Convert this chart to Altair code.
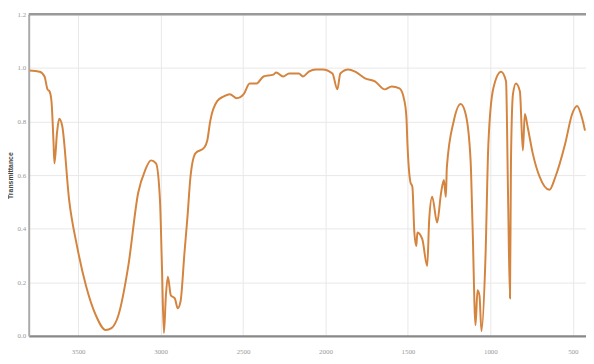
import altair as alt
import pandas as pd

wavenumber = [3794, 3734, 3704, 3686, 3674, 3662, 3650, 3644, 3628, 3615, 3597,
              3555, 3507, 3453, 3393, 3333, 3298, 3256, 3196, 3136, 3094, 3058,
              3028, 3004, 2992, 2980, 2968, 2956, 2938, 2914, 2896, 2879, 2855,
              2837, 2819, 2789, 2735, 2717, 2699, 2657, 2616, 2580, 2538, 2496,
              2460, 2418, 2376, 2316, 2299, 2257, 2221, 2161, 2137, 2101, 2059,
              2017, 1958, 1928, 1910, 1862, 1820, 1760, 1700, 1640, 1599, 1551,
              1521, 1509, 1503, 1485, 1473, 1461, 1449, 1443, 1413, 1383, 1371,
              1353, 1323, 1299, 1282, 1270, 1264, 1222, 1180, 1150, 1120, 1108,
              1090, 1078, 1066, 1054, 1030, 1012, 982, 935, 905, 893, 881, 875,
              863, 845, 821, 803, 791, 773, 743, 701, 642, 606, 546, 504, 474,
              444, 426]
transmittance = [0.990, 0.986, 0.968, 0.920, 0.913, 0.876, 0.729, 0.644, 0.760, 0.810, 0.784,
                 0.508, 0.335, 0.188, 0.077, 0.022, 0.029, 0.077, 0.261, 0.534, 0.618, 0.655,
                 0.644, 0.508, 0.261, 0.011, 0.150, 0.221, 0.151, 0.140, 0.103, 0.129, 0.313,
                 0.445, 0.593, 0.681, 0.703, 0.729, 0.802, 0.876, 0.894, 0.902, 0.887, 0.902,
                 0.942, 0.942, 0.968, 0.975, 0.983, 0.968, 0.979, 0.979, 0.968, 0.986, 0.994,
                 0.994, 0.979, 0.920, 0.979, 0.994, 0.986, 0.961, 0.950, 0.920, 0.931, 0.924,
                 0.876, 0.813, 0.718, 0.574, 0.556, 0.386, 0.335, 0.386, 0.361, 0.261, 0.434,
                 0.519, 0.423, 0.534, 0.582, 0.519, 0.629, 0.802, 0.865, 0.828, 0.655, 0.409,
                 0.040, 0.170, 0.150, 0.018, 0.287, 0.718, 0.924, 0.986, 0.950, 0.534, 0.140, 0.655,
                 0.902, 0.942, 0.913, 0.692, 0.828, 0.777, 0.681, 0.593, 0.545, 0.593, 0.718, 0.828, 0.858,
                 0.813, 0.766]

x_ticks = [3500, 3000, 2500, 2000, 1500, 1000, 500]
y_ticks = [0.0, 0.2, 0.4, 0.6, 0.8, 1.0, 1.2]

df = pd.DataFrame({"wn": wavenumber, "t": transmittance})

xscale = alt.Scale(domain=[3800, 420], nice=False, zero=False)
yscale = alt.Scale(domain=[0, 1.2], nice=False)

line = alt.Chart(df).mark_line(color="#d4843e", strokeWidth=2, interpolate="monotone").encode(
    x=alt.X("wn:Q", scale=xscale,
            axis=alt.Axis(values=x_ticks, title=None, format="d", labelFontSize=7,
                          labelColor="#999999", labelPadding=12, ticks=False,
                          domainColor="#888888", domainWidth=2.5,
                          gridColor="#e8e8e8", labelFont="Liberation Serif")),
    y=alt.Y("t:Q", scale=yscale,
            axis=alt.Axis(values=y_ticks, format=".1f", title="Transmittance",
                          titleFontSize=7, titleFontWeight="bold", titleColor="#444444",
                          titlePadding=4, labelFontSize=7, labelColor="#999999",
                          labelPadding=3, ticks=False, domainColor="#aaaaaa",
                          domainWidth=2, gridColor="#e8e8e8",
                          labelFont="Liberation Serif")),
)

top = alt.Chart(pd.DataFrame({"y": [1.2]})).mark_rule(color="#999999", strokeWidth=2.5).encode(
    y=alt.Y("y:Q", scale=yscale)
)

chart = alt.layer(line, top).properties(
    width=565, height=326,
    autosize=alt.AutoSizeParams(type="none"),
    padding={"left": 21, "top": 4, "right": 0, "bottom": 20},
).configure_view(stroke=None)

chart.save("out.html", embed_options={"renderer": "svg", "actions": False})
